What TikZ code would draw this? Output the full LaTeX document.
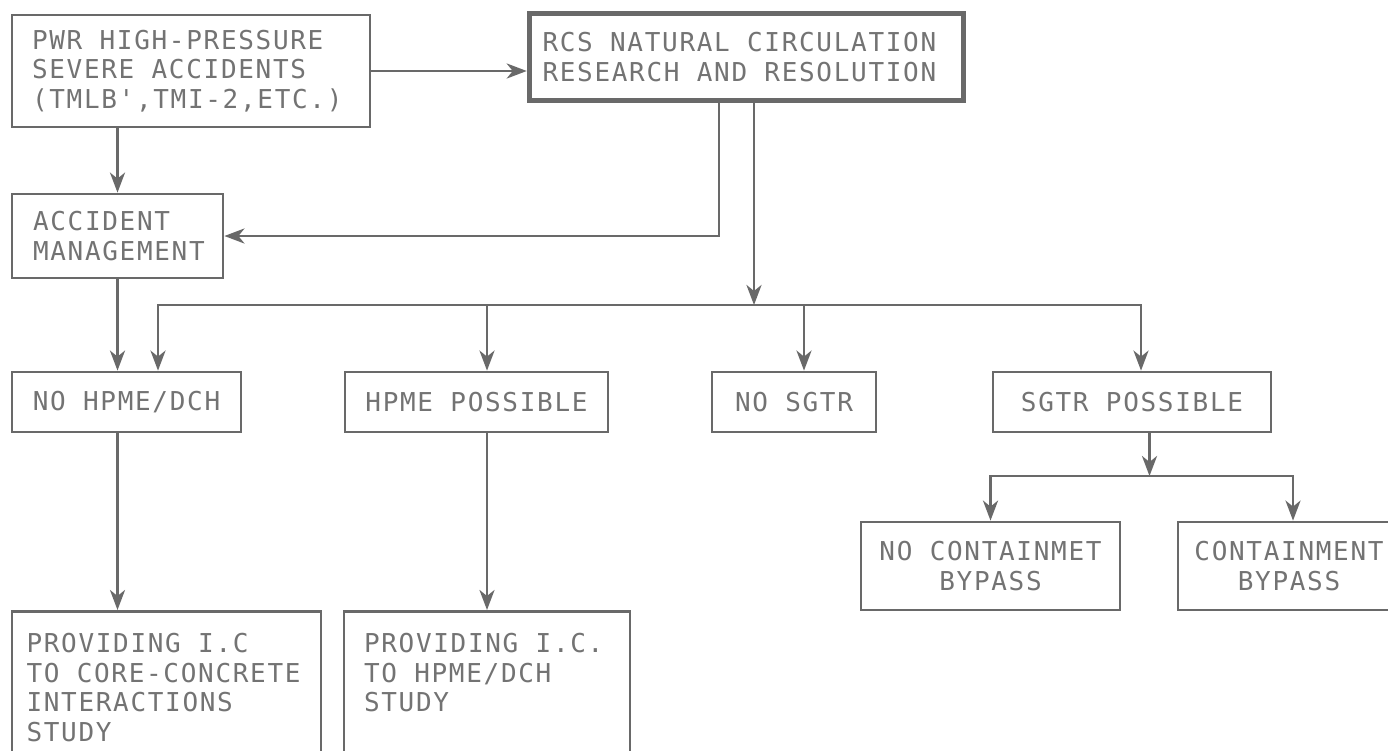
\documentclass[tikz,border=0pt]{standalone}
\usepackage{fontspec}
\newfontfamily\chartfont[LetterSpace=6.5]{DejaVu Sans Mono}
\usetikzlibrary{arrows.meta}
\definecolor{inkgray}{RGB}{105,105,105}
\definecolor{textgray}{RGB}{115,115,115}

\begin{document}
\begin{tikzpicture}[x=1pt,y=-1pt]
\tikzset{
  box/.style={draw=inkgray,line width=2.8pt,text=textgray,inner xsep=0pt,inner ysep=0pt,
    font=\chartfont\fontsize{26}{29.5}\selectfont,align=center,
    execute at begin node={\hyphenpenalty=10000\exhyphenpenalty=10000\spaceskip=17.3pt\xspaceskip=17.3pt\relax}},
  leftbox/.style={box,align=left},
  flow/.style={draw=inkgray,line width=2.8pt,-{Stealth[length=20pt,width=15pt,inset=6pt]}}
}
\useasboundingbox (0,0) rectangle (1388,750);
\fill[white] (0,0) rectangle (1388,750);
\node[leftbox,minimum width=358pt,minimum height=112pt,text width=318pt] (n_pwr) at (191,71)
  {PWR HIGH-PRESSURE\\SEVERE ACCIDENTS\\(TMLB',TMI-2,ETC.)};
\node[leftbox,line width=5.5pt,minimum width=434pt,minimum height=87pt,text width=408pt] (n_rcs) at (746.5,57)
  {RCS NATURAL CIRCULATION\\RESEARCH AND RESOLUTION};
\node[leftbox,minimum width=211pt,minimum height=84pt,text width=169pt] (n_acc) at (117.5,236)
  {ACCIDENT\\MANAGEMENT};
\node[box,minimum width=229pt,minimum height=60pt] (n_nohpme) at (126.5,402) {NO HPME/DCH};
\node[box,minimum width=263pt,minimum height=60pt] (n_hpme) at (476.5,402) {HPME POSSIBLE};
\node[box,minimum width=164pt,minimum height=60pt] (n_nosgtr) at (794,402) {NO SGTR};
\node[box,minimum width=278pt,minimum height=60pt] (n_sgtr) at (1132,402) {SGTR POSSIBLE};
\node[box,minimum width=259pt,minimum height=88pt] (n_nocont) at (990.5,566) {NO CONTAINMET\\BYPASS};
\node[box,minimum width=222pt,minimum height=88pt] (n_cont) at (1289,566) {CONTAINMENT\\BYPASS};
\node[leftbox,anchor=north,minimum width=309pt,inner ysep=22pt,text width=280pt] (n_ic1) at (166.5,610)
  {PROVIDING I.C\\TO CORE-CONCRETE\\INTERACTIONS\\STUDY};
\node[leftbox,anchor=north,minimum width=286pt,inner ysep=22pt,text width=246pt] (n_ic2) at (487,610)
  {PROVIDING I.C.\\TO HPME/DCH\\STUDY\\\mbox{}};
\coordinate (c_split) at (754,305);
\coordinate (c_fork) at (1149.5,476);
% upper part
\draw[flow] (n_pwr.east) -- (n_pwr.east -| n_rcs.west);
\draw[flow] (n_pwr.south -| n_acc.north) -- (n_acc.north);
\draw[flow] ([xshift=-27.5pt]n_rcs.south) |- (n_acc.east);
\draw[flow] ([xshift=7.5pt]n_rcs.south) -- (c_split);
% branches off the main line
\draw[flow] (c_split) -| ([xshift=31.5pt]n_nohpme.north);
\draw[flow] (c_split) -| ([xshift=10.5pt]n_hpme.north);
\draw[flow] (c_split) -| ([xshift=10pt]n_nosgtr.north);
\draw[flow] (c_split) -| ([xshift=9pt]n_sgtr.north);
\draw[flow] (n_acc.south) -- (n_acc.south |- n_nohpme.north);
% lower part
\draw[flow] (n_acc.south |- n_nohpme.south) -- (n_acc.south |- n_ic1.north);
\draw[flow] (n_ic2.north |- n_hpme.south) -- (n_ic2.north);
\draw[flow] (n_sgtr.south -| c_fork) -- (c_fork);
\draw[flow] (c_fork) -| (n_nocont.north);
\draw[flow] (c_fork) -| ([xshift=4pt]n_cont.north);
\end{tikzpicture}
\end{document}
